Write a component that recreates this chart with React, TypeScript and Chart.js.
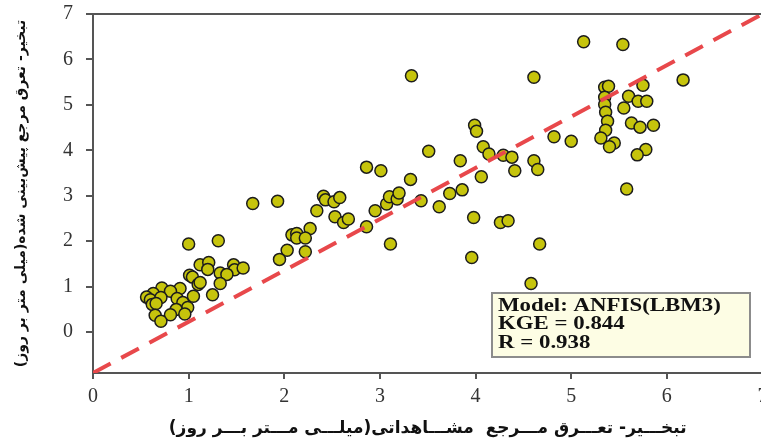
import React, { useEffect, useRef } from 'react';
import { Chart, registerables } from 'chart.js';

Chart.register(...registerables);

// Observed ET0 (mm/day)
const observed: number[] = [
  1.00, 1.31, 1.12, 1.21, 1.20, 1.47, 1.48, 1.57, 1.33, 1.40, 1.01, 1.04, 1.10, 1.12, 1.33, 1.25,
  0.72, 0.91, 0.81, 0.63, 0.56, 0.60, 0.71, 0.88, 1.05, 0.62, 0.66, 0.94, 0.99, 0.87, 0.81, 0.96,
  0.65, 0.71,
  2.86, 3.01, 1.67, 1.93, 2.41, 2.43, 2.52, 2.58, 2.34, 2.53, 2.62, 2.67, 2.86, 2.95, 3.07, 3.10,
  3.18, 2.27, 2.08, 2.13, 2.13, 2.22, 2.03, 2.22, 1.95, 3.11,
  3.33, 4.61, 3.99, 4.01, 4.08, 4.14, 4.29, 4.38, 3.51, 3.84, 4.61, 4.41, 4.65, 4.06, 3.32, 3.86,
  3.73, 3.20, 3.43, 3.62, 3.98, 4.26, 4.34, 3.96, 4.67, 4.58,
  5.13, 5.54, 6.17, 5.35, 5.39, 5.75, 5.35, 5.60, 5.70, 5.79, 5.35, 5.55, 5.36, 5.38, 5.36, 5.31,
  5.45, 5.40, 5.63, 5.72, 5.86, 4.82, 5.00, 5.78, 5.69, 5.58,
];

// Predicted ET0 (mm/day)
const predicted: number[] = [
  1.94, 2.01, 1.48, 1.53, 1.38, 1.48, 1.37, 1.41, 1.30, 1.27, 1.25, 1.21, 1.05, 1.09, 1.07, 0.82,
  0.97, 0.96, 0.90, 0.85, 0.77, 0.71, 0.76, 0.74, 0.79, 0.61, 0.63, 0.65, 0.54, 0.50, 0.38, 0.40,
  0.37, 0.24,
  3.63, 3.55, 2.83, 2.88, 2.99, 2.91, 2.87, 2.96, 2.67, 2.54, 2.41, 2.49, 2.32, 2.67, 2.82, 2.98,
  2.93, 2.28, 2.14, 2.17, 2.07, 2.07, 1.80, 1.77, 1.60, 1.94,
  5.64, 5.61, 4.55, 4.42, 4.08, 3.92, 3.89, 3.85, 3.98, 3.77, 3.77, 3.55, 3.58, 3.42, 3.36, 3.13,
  3.05, 3.06, 2.89, 2.76, 2.52, 2.41, 2.45, 1.64, 1.94, 1.07,
  6.39, 6.33, 5.55, 5.39, 5.41, 5.43, 5.17, 5.19, 5.08, 5.08, 5.01, 4.93, 4.84, 4.64, 4.44, 4.27,
  4.16, 4.08, 4.60, 4.51, 4.55, 4.30, 4.20, 4.02, 3.90, 3.15,
];

// Reference line (drawn corner to corner of the plot)
const lineX: number[] = [0, 7];
const lineY: number[] = [-0.9, 7];

const xTicks: number[] = [0, 1, 2, 3, 4, 5, 6, 7];
const yTicks: number[] = [0, 1, 2, 3, 4, 5, 6, 7];

const statsLines: string[] = ['Model: ANFIS(LBM3)', 'KGE = 0.844', 'R = 0.938'];

const xTitle = 'تبخـــیر- تعـــرق مـــرجع  مشـــاهداتی(میلـــی مـــتر بـــر روز)';
const yTitle = 'تبخیر- تعرق مرجع پیش‌بینی شده(میلی متر بر روز)';

const AXIS = '#555555';

const overlayPlugin = {
  id: 'overlay',
  afterDraw(chart: any) {
    const { ctx, chartArea: a } = chart;
    ctx.save();
    // top frame line
    ctx.strokeStyle = AXIS;
    ctx.lineWidth = 2;
    ctx.beginPath();
    ctx.moveTo(a.left, a.top);
    ctx.lineTo(a.right + 10, a.top);
    ctx.stroke();
    // stats box
    const bx = a.left + 399;
    const by = a.top + 279;
    const bw = 258;
    const bh = 64;
    ctx.fillStyle = '#fdfde4';
    ctx.fillRect(bx, by, bw, bh);
    ctx.strokeStyle = '#8c8c8c';
    ctx.lineWidth = 2;
    ctx.strokeRect(bx, by, bw, bh);
    ctx.fillStyle = '#111111';
    ctx.font = 'bold 18px "Liberation Serif", serif';
    ctx.textBaseline = 'middle';
    ctx.textAlign = 'left';
    statsLines.forEach((t, i) => {
      ctx.save();
      ctx.translate(bx + 6, by + 13 + i * 18.5);
      ctx.scale(1.27, 1);
      ctx.fillText(t, 0, 0);
      ctx.restore();
    });
    ctx.restore();
  },
};

export default function App() {
  const ref = useRef<HTMLCanvasElement | null>(null);

  useEffect(() => {
    if (!ref.current) return;
    const points = observed.map((x, i) => ({ x, y: predicted[i] }));
    const line = lineX.map((x, i) => ({ x, y: lineY[i] }));
    const chart = new Chart(ref.current, {
      type: 'scatter',
      data: {
        datasets: [
          {
            type: 'line',
            data: line,
            borderColor: '#e8484b',
            borderWidth: 4,
            borderDash: [20, 12],
            pointRadius: 0,
            fill: false,
            order: 0,
          } as any,
          {
            data: points,
            backgroundColor: '#c6c40c',
            borderColor: '#1c1c1c',
            borderWidth: 1.5,
            pointRadius: 6,
            order: 1,
          },
        ],
      },
      options: {
        animation: false,
        responsive: false,
        devicePixelRatio: 1,
        layout: { padding: { top: 14, right: 6, left: 0, bottom: 0 } },
        plugins: { legend: { display: false }, tooltip: { enabled: false } },
        scales: {
          x: {
            type: 'linear',
            min: 0,
            max: 7,
            afterBuildTicks: (s: any) => {
              s.ticks = xTicks.map((v) => ({ value: v }));
            },
            afterFit: (s: any) => {
              s.height = 70;
              s.paddingLeft = 0;
              s.paddingRight = 0;
            },
            ticks: {
              color: '#333333',
              padding: 6,
              font: { family: '"Liberation Serif", serif', size: 20 },
            },
            grid: {
              display: true,
              drawOnChartArea: false,
              drawTicks: true,
              tickLength: 6,
              color: AXIS,
              lineWidth: 2,
            },
            border: { display: true, color: AXIS, width: 2 },
            title: {
              display: true,
              text: xTitle,
              color: '#111111',
              padding: { top: 0, bottom: 4 },
              font: { family: '"DejaVu Sans", sans-serif', size: 17, weight: 'bold' },
            },
          },
          y: {
            type: 'linear',
            min: -0.9,
            max: 7,
            afterBuildTicks: (s: any) => {
              s.ticks = yTicks.map((v) => ({ value: v }));
            },
            afterFit: (s: any) => {
              s.width = 93;
              s.paddingTop = 0;
              s.paddingBottom = 0;
            },
            ticks: {
              color: '#333333',
              padding: 13,
              font: { family: '"Liberation Serif", serif', size: 20 },
            },
            grid: {
              display: true,
              drawOnChartArea: false,
              drawTicks: true,
              tickLength: 7,
              color: AXIS,
              lineWidth: 2,
            },
            border: { display: true, color: AXIS, width: 2 },
            title: {
              display: true,
              text: yTitle,
              color: '#111111',
              padding: { top: 13, bottom: 0 },
              font: { family: '"DejaVu Sans", sans-serif', size: 14, weight: 'bold' },
            },
          },
        },
      },
      plugins: [overlayPlugin],
    });
    return () => chart.destroy();
  }, []);

  return (
    <div
      style={{
        position: 'fixed',
        left: 0,
        top: 0,
        width: 761,
        height: 443,
        overflow: 'hidden',
        background: '#ffffff',
      }}
    >
      <canvas ref={ref} width={770} height={443} style={{ display: 'block', width: 770, height: 443 }} />
    </div>
  );
}
